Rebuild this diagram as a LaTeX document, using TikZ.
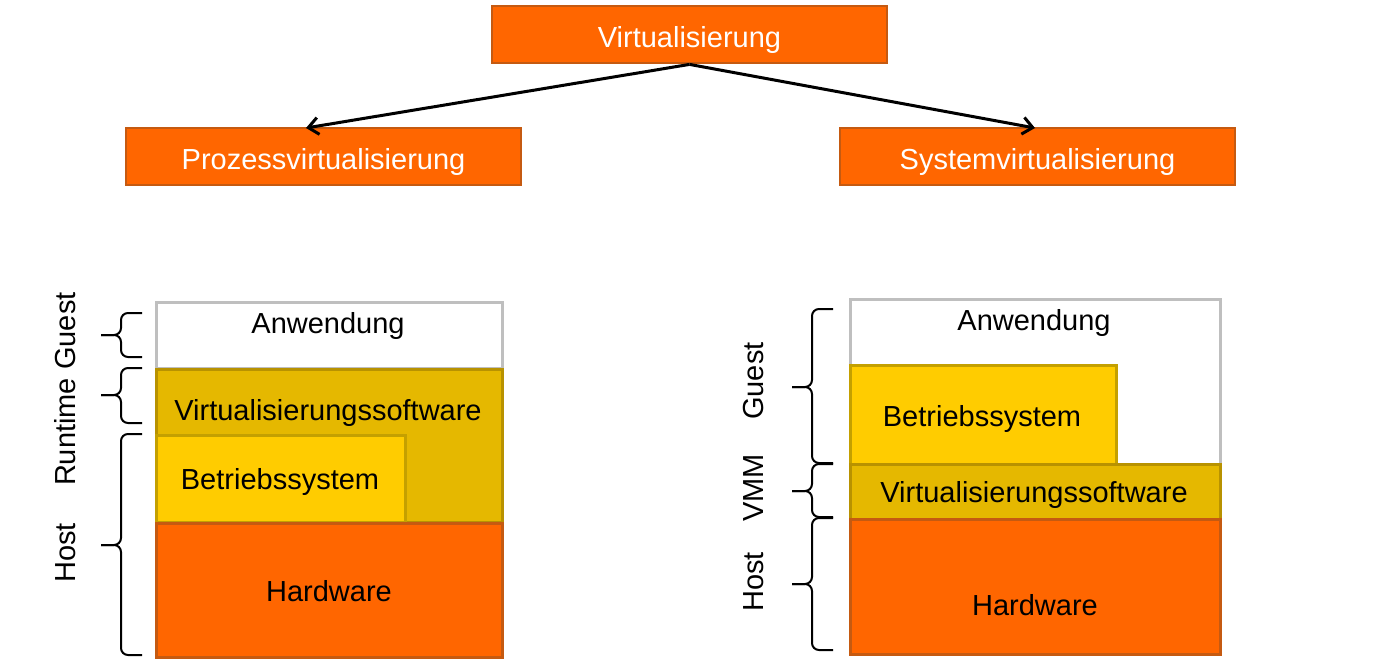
\documentclass[tikz,border=0pt]{standalone}
\usepackage{fontspec}
\setmainfont{Liberation Sans}
\usepackage{tikz}
\usetikzlibrary{arrows.meta, positioning}
\definecolor{hwOrange}{RGB}{255,102,0}
\definecolor{hwBorder}{RGB}{197,90,17}
\definecolor{vmGold}{RGB}{229,184,0}
\definecolor{vmBorder}{RGB}{184,146,0}
\definecolor{osYellow}{RGB}{255,204,0}
\definecolor{osBorder}{RGB}{196,160,0}
\definecolor{appBorder}{RGB}{191,191,191}

\tikzset{
  catbox/.style={draw=hwBorder, fill=hwOrange, line width=2.8pt, text=white,
    minimum width=395pt, minimum height=57pt, inner sep=0pt,
    text height=25pt, text depth=0pt, font=\fontsize{29}{35}\selectfont},
  layer/.style={line width=3pt, anchor=north west, inner sep=0pt},
  lbl/.style={anchor=base, inner sep=0pt, font=\fontsize{29}{35}\selectfont},
  sidelbl/.style={lbl, rotate=90},
  bracestyle/.style={line width=2pt, rounded corners=7pt},
  branch/.style={line width=3pt, -{Straight Barb[length=10pt,width=17pt,line width=3pt]}}
}
% tip x, top y, tip y, bottom y
\newcommand{\layerbrace}[4]{%
  \draw[bracestyle] (#1+41,#2) -- (#1+20,#2) -- (#1+20,#3) -- (#1,#3);
  \draw[bracestyle] (#1+41,#4) -- (#1+20,#4) -- (#1+20,#3) -- (#1,#3);
}

\begin{document}
\begin{tikzpicture}[x=1pt, y=-1pt]
  \useasboundingbox (0,0) rectangle (1387,664);

  % classification
  \node[catbox] (virt) at (689.5,34.5) {Virtualisierung};
  \node[catbox] (prozess) at (323.5,156.5) {Prozessvirtualisierung};
  \node[catbox] (system) at (1037.5,156.5) {Systemvirtualisierung};
  \coordinate (prozessTip) at (306,128);
  \coordinate (systemTip) at (1035,128);
  \draw[branch] (virt.south) -- (prozessTip);
  \draw[branch] (virt.south) -- (systemTip);

  % process virtualization stack
  \node[layer, draw=appBorder, fill=white, minimum width=346pt, minimum height=66pt] (appL) at (155,301) {};
  \node[layer, draw=vmBorder, fill=vmGold, minimum width=346pt, minimum height=153pt] (vmL) at (155,368) {};
  \node[layer, draw=osBorder, fill=osYellow, minimum width=249pt, minimum height=87pt] (osL) at (155,434) {};
  \node[layer, draw=hwBorder, fill=hwOrange, minimum width=346pt, minimum height=134pt] (hwL) at (155,522) {};
  \node[lbl] (appTextL) at (328,333) {Anwendung};
  \node[lbl] (vmTextL) at (328,420) {Virtualisierungssoftware};
  \node[lbl] (osTextL) at (280,489) {Betriebssystem};
  \node[lbl] (hwTextL) at (329,601) {Hardware};

  \layerbrace{101}{313}{335}{357}
  \layerbrace{101}{368}{395}{423}
  \layerbrace{101}{434}{545}{655}
  \node[sidelbl] (guestL) at (75,331) {Guest};
  \node[sidelbl] (runtimeL) at (75,432) {Runtime};
  \node[sidelbl] (hostL) at (75,553) {Host};

  % system virtualization stack
  \node[layer, draw=appBorder, fill=white, minimum width=370pt, minimum height=165pt] (appR) at (849,298) {};
  \node[layer, draw=osBorder, fill=osYellow, minimum width=266pt, minimum height=99pt] (osR) at (849,364) {};
  \node[layer, draw=vmBorder, fill=vmGold, minimum width=370pt, minimum height=55pt] (vmR) at (849,463) {};
  \node[layer, draw=hwBorder, fill=hwOrange, minimum width=370pt, minimum height=135pt] (hwR) at (849,518) {};
  \node[lbl] (appTextR) at (1034,330) {Anwendung};
  \node[lbl] (osTextR) at (982,426) {Betriebssystem};
  \node[lbl] (vmTextR) at (1034,502) {Virtualisierungssoftware};
  \node[lbl] (hwTextR) at (1035,615) {Hardware};

  \layerbrace{792}{309}{387}{463}
  \layerbrace{792}{464}{491}{517}
  \layerbrace{792}{518}{584}{650}
  \node[sidelbl] (guestR) at (763,381) {Guest};
  \node[sidelbl] (vmmR) at (763,488) {VMM};
  \node[sidelbl] (hostR) at (763,582) {Host};
\end{tikzpicture}
\end{document}
